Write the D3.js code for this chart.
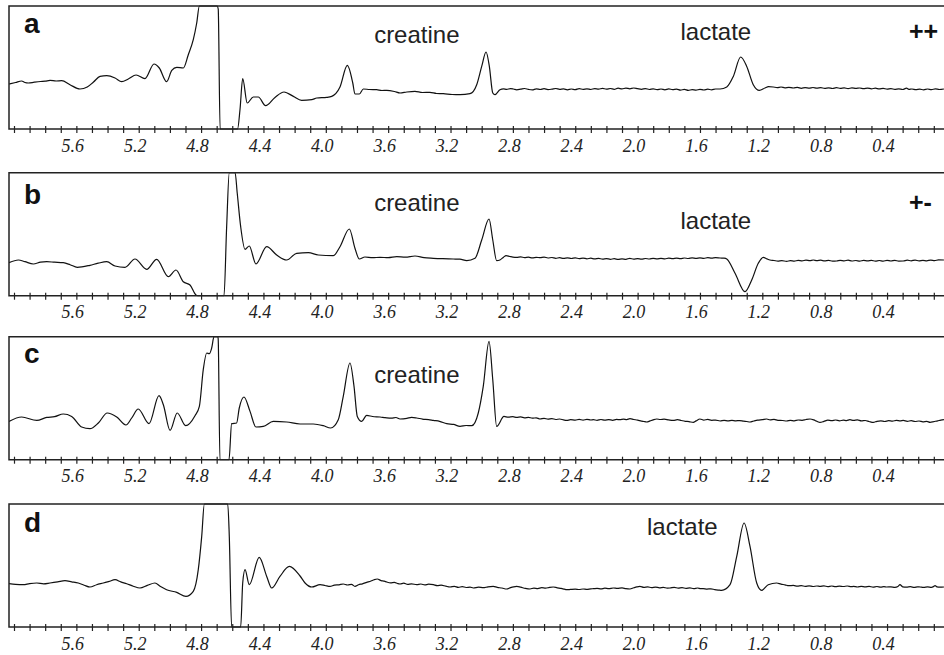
<!DOCTYPE html>
<html>
<head>
<meta charset="utf-8">
<script src="https://cdn.jsdelivr.net/npm/d3@7"></script>
<style>
  body { margin: 0; background: #fff; }
  svg { display: block; }
</style>
</head>
<body>
<svg id="chart" width="944" height="655"></svg>
<script>
//////////////////////////////////////
// Data  ([ppm, signal], signal read as height above the axis)

const specA = [
  [6.032,45],[5.990,46.5],[5.951,48],[5.930,46.5],[5.908,46],[5.870,46.8],[5.830,47.5],[5.800,47.8],[5.769,48.6],[5.730,48],
  [5.694,48.3],[5.641,44.3],[5.577,40],[5.530,42],[5.490,47],[5.448,52.6],[5.405,53.3],[5.352,51],[5.309,47.3],[5.267,50],
  [5.217,54],[5.160,50.3],[5.102,65],[5.068,61],[5.021,47.3],[4.988,58.6],[4.956,61.6],[4.914,61],[4.882,74.3],[4.850,89.3],
  [4.828,106],[4.811,123.5],[4.790,140],[4.720,140],[4.696,130],[4.690,120],[4.678,-10],[4.566,-10],[4.550,20],[4.533,50.3],
  [4.504,26],[4.465,32],[4.433,32],[4.386,23.3],[4.326,31.6],[4.268,37],[4.208,32.6],[4.155,28.6],[4.090,29.3],[4.058,31],
  [3.994,31.6],[3.962,32.6],[3.909,42],[3.862,63.6],[3.827,46],[3.813,35],[3.785,35],[3.759,40],[3.720,39.5],[3.674,39.3],
  [3.640,38.5],[3.609,38.6],[3.560,37.5],[3.524,36],[3.480,37],[3.428,37.6],[3.380,36.5],[3.332,36.6],[3.290,35.5],[3.246,35.3],
  [3.190,34.5],[3.139,34.3],[3.075,35.3],[3.032,44.3],[3.000,62.6],[2.972,77],[2.951,62.6],[2.929,36],[2.915,34.3],[2.883,39.3],
  [2.860,40.2],[2.840,39.6],[2.815,40.4],[2.797,40],[2.775,39.2],[2.750,39.8],[2.725,40.5],[2.700,39.6],[2.675,39.1],[2.650,40.2],
  [2.625,39.5],[2.600,40.3],[2.575,39.4],[2.550,39.8],[2.525,40.5],[2.500,39.7],[2.475,40.1],[2.450,39.2],[2.425,40],[2.400,39.4],
  [2.375,40.4],[2.350,39.6],[2.325,40.2],[2.300,39.5],[2.275,40.4],[2.250,39.8],[2.225,40.6],[2.200,39.9],[2.175,40.5],[2.150,39.7],
  [2.125,40.8],[2.100,40.1],[2.075,40.9],[2.050,40.2],[2.025,41],[2.000,40.3],[1.975,39.7],[1.950,40.4],[1.925,39.5],[1.900,40.2],
  [1.875,39.3],[1.850,40],[1.825,39.2],[1.800,40.1],[1.775,39.4],[1.750,39.9],[1.725,38.9],[1.700,39.6],[1.675,38.6],[1.650,39.4],
  [1.625,38.9],[1.600,39.7],[1.575,39],[1.550,39.8],[1.525,39.2],[1.500,40],[1.471,40],[1.428,42],[1.386,52.6],[1.339,72],
  [1.300,62.6],[1.258,44.3],[1.219,38.6],[1.183,41],[1.160,42.3],[1.130,42],[1.105,41.4],[1.080,42],[1.055,41.2],[1.030,41.7],
  [1.001,41],[0.975,41.6],[0.950,40.7],[0.925,41.4],[0.900,40.8],[0.875,41.5],[0.850,40.9],[0.825,41.4],[0.800,40.6],[0.775,41.2],
  [0.750,40.5],[0.725,41.3],[0.700,40.7],[0.675,41.1],[0.650,40.4],[0.625,41.2],[0.600,40.6],[0.575,41],[0.550,40.3],[0.525,40.9],
  [0.500,40.2],[0.475,40.8],[0.450,40.1],[0.425,40.6],[0.400,39.8],[0.375,40.4],[0.350,39.6],[0.325,40.2],[0.300,39.5],[0.275,40.8],
  [0.260,39.6],[0.240,40],[0.215,39.3],[0.190,39.8],[0.165,39.2],[0.140,40],[0.115,39.4],[0.090,40.1],[0.065,39.5],[0.035,40]
];

const specB = [
  [6.032,33],[5.972,35.7],[5.930,34],[5.876,31.7],[5.830,33.5],[5.790,34],[5.740,33.5],[5.684,33],[5.640,31],[5.594,28.4],
  [5.513,30.4],[5.460,32.5],[5.405,34],[5.352,29.7],[5.288,28.4],[5.224,36.7],[5.149,26.4],[5.085,36.4],[5.010,19],[4.961,25.7],
  [4.914,14],[4.871,10.7],[4.833,0.7],[4.820,-5],[4.653,-5],[4.636,69],[4.619,130],[4.582,130],[4.568,102.4],[4.546,69],
  [4.518,46.4],[4.491,49.7],[4.448,31.7],[4.379,49],[4.315,40.7],[4.251,35.7],[4.187,42.4],[4.112,43],[4.048,40.7],[3.952,40],
  [3.909,49],[3.849,66.7],[3.813,47.4],[3.785,36.7],[3.749,38.7],[3.700,38],[3.652,38.4],[3.600,38],[3.545,39],[3.490,38.5],
  [3.428,39.7],[3.370,38],[3.310,37.4],[3.250,37],[3.182,36.7],[3.140,36.5],[3.096,35],[3.043,37.4],[3.000,55.7],[2.953,76.7],
  [2.929,55.7],[2.904,35],[2.883,35.7],[2.860,38.5],[2.844,40],[2.820,39.2],[2.800,38.6],[2.775,38.4],[2.750,38.9],[2.725,38.1],
  [2.700,38.5],[2.675,37.8],[2.650,38.4],[2.625,38],[2.600,38.6],[2.575,37.7],[2.550,38.2],[2.525,37.4],[2.500,38],[2.475,37.3],
  [2.450,37.9],[2.425,37.2],[2.400,37.8],[2.375,37],[2.350,37.6],[2.325,36.9],[2.300,37.5],[2.275,36.8],[2.250,37.3],[2.225,36.5],
  [2.200,37.1],[2.175,36.4],[2.150,37],[2.125,36.3],[2.100,36.9],[2.075,36.4],[2.050,37.4],[2.025,36.6],[2.000,37],[1.975,36.5],
  [1.950,37.2],[1.925,36.7],[1.900,37.3],[1.875,36.8],[1.850,37.4],[1.825,36.9],[1.800,37.5],[1.775,37],[1.750,37.6],[1.725,37.1],
  [1.700,37.7],[1.675,37.2],[1.650,37.8],[1.625,37.3],[1.600,37.9],[1.575,37.4],[1.550,38],[1.525,37.5],[1.500,38],[1.471,37.7],
  [1.445,37.5],[1.428,36.7],[1.375,22.4],[1.311,4],[1.268,15.7],[1.226,32.4],[1.194,38.4],[1.170,36.8],[1.151,35.7],[1.125,35.2],
  [1.100,34.6],[1.075,35],[1.044,34.4],[1.020,35],[0.995,34.5],[0.970,35.3],[0.945,34.8],[0.920,35.6],[0.895,35],[0.873,35.7],
  [0.850,35.1],[0.825,35.5],[0.800,34.8],[0.775,35.3],[0.750,34.5],[0.723,34.7],[0.700,35.4],[0.675,34.9],[0.650,35.5],[0.625,34.7],
  [0.600,35.2],[0.575,34.6],[0.550,35.4],[0.525,34.8],[0.500,35.3],[0.475,34.6],[0.450,35.2],[0.425,34.5],[0.400,35.3],[0.375,34.7],
  [0.350,35.4],[0.325,34.6],[0.296,34.7],[0.270,35.5],[0.245,34.9],[0.220,35.6],[0.195,34.8],[0.170,35.4],[0.145,34.9],[0.120,35.6],
  [0.095,35],[0.070,35.8],[0.035,35.7]
];

const specC = [
  [6.032,38.3],[5.951,42.7],[5.854,39.3],[5.790,42.3],[5.740,43],[5.684,45.7],[5.630,43.3],[5.566,32.7],[5.513,31],[5.459,36.7],
  [5.402,46.7],[5.341,42.7],[5.282,34.7],[5.245,41.7],[5.203,50.7],[5.134,36],[5.070,64],[5.042,55],[4.999,29.3],[4.953,46.7],
  [4.899,34],[4.839,44],[4.811,53.3],[4.786,90],[4.764,106.7],[4.747,106],[4.732,111.7],[4.717,124],[4.710,135],[4.692,135],
  [4.690,120],[4.679,-10],[4.621,-10],[4.604,36],[4.572,36.7],[4.555,51.7],[4.525,62.7],[4.486,48.3],[4.448,32.7],[4.401,33.3],
  [4.337,38.3],[4.251,37.7],[4.165,35.7],[4.080,35.7],[4.016,34],[3.969,31.7],[3.920,40],[3.888,63.3],[3.845,96.7],[3.819,73.3],
  [3.798,43.3],[3.770,38.3],[3.738,44.3],[3.700,43.2],[3.652,42.7],[3.620,42.1],[3.580,41.5],[3.550,42.2],[3.524,40.7],[3.480,41.3],
  [3.450,42.3],[3.417,41.7],[3.380,40.6],[3.340,40.1],[3.310,39.3],[3.270,38.4],[3.224,36],[3.180,35.3],[3.139,33.3],[3.100,34.2],
  [3.064,34],[3.022,46.7],[2.990,73.3],[2.953,118.3],[2.929,80],[2.904,33.3],[2.857,43.3],[2.830,42.5],[2.800,43],[2.775,42.3],
  [2.750,42.8],[2.725,41.9],[2.700,42.4],[2.675,41.5],[2.650,41.9],[2.626,40.7],[2.600,41.4],[2.575,40.6],[2.550,41.1],[2.525,40.2],
  [2.500,40.7],[2.475,39.8],[2.455,39.3],[2.430,40],[2.400,39.5],[2.375,40.3],[2.350,39.6],[2.325,40.4],[2.300,39.7],[2.284,40],
  [2.260,39.4],[2.235,40.2],[2.210,39.5],[2.185,40.1],[2.160,39.4],[2.135,40.3],[2.113,40],[2.090,40.6],[2.070,40.1],[2.049,41],
  [2.025,40.2],[2.000,39.6],[1.975,38.6],[1.960,38.2],[1.942,37.7],[1.920,38.8],[1.900,39.9],[1.877,40.7],[1.855,40.2],[1.830,40.6],
  [1.800,39.8],[1.771,39.3],[1.745,40],[1.720,39.2],[1.695,38.4],[1.670,38.1],[1.643,37.3],[1.625,38.8],[1.600,40.7],[1.575,39.6],
  [1.550,40.3],[1.525,39.4],[1.500,39.6],[1.471,38.7],[1.445,39.3],[1.420,38.8],[1.395,39.4],[1.370,38.9],[1.345,39.1],[1.320,38.5],
  [1.300,38.2],[1.279,37.7],[1.255,38.7],[1.230,39.6],[1.200,40.1],[1.172,40.7],[1.150,39.8],[1.125,40.3],[1.100,39.4],[1.070,39.2],
  [1.044,38.7],[1.020,39.4],[0.995,38.9],[0.970,39.7],[0.945,39.4],[0.920,40.2],[0.894,40.7],[0.870,39.8],[0.850,38.4],[0.830,37.3],
  [0.805,38.3],[0.780,39.6],[0.755,39.1],[0.730,39.7],[0.705,38.9],[0.680,39.5],[0.660,39.1],[0.638,40],[0.615,39.3],[0.590,39.8],
  [0.565,38.8],[0.540,39.2],[0.515,38.2],[0.488,37.3],[0.465,38.4],[0.440,38.9],[0.415,38.2],[0.390,39],[0.365,38.5],[0.340,39.3],
  [0.315,38.8],[0.296,39.3],[0.270,38.4],[0.245,39],[0.220,38.2],[0.195,38.7],[0.170,37.9],[0.145,38.3],[0.124,37.3],[0.100,38.1],
  [0.075,38.9],[0.055,39.6],[0.035,40]
];

const specD = [
  [6.032,43.3],[5.990,42.6],[5.940,42.3],[5.900,43.4],[5.854,44],[5.810,43.2],[5.769,44],[5.720,45.1],[5.673,46.3],[5.630,45.2],
  [5.588,44],[5.550,41.8],[5.513,40],[5.470,42.3],[5.427,44],[5.390,45.6],[5.352,47.3],[5.315,45.1],[5.277,43.3],[5.235,40.8],
  [5.192,39],[5.145,41.6],[5.096,44],[5.060,40.4],[5.021,37.3],[4.956,34.6],[4.897,30.6],[4.850,35.6],[4.818,57.3],[4.796,90.6],
  [4.779,130],[4.629,130],[4.619,90.6],[4.604,-10],[4.546,-10],[4.533,44],[4.518,57.3],[4.491,42.3],[4.427,69.6],[4.379,50.6],
  [4.347,39],[4.294,50.6],[4.234,60.6],[4.165,51],[4.133,44],[4.090,40],[4.037,42.3],[4.005,41.5],[3.973,40.6],[3.945,41.8],
  [3.915,42.2],[3.888,43],[3.860,42],[3.835,42.6],[3.813,40.6],[3.790,42.3],[3.765,43.2],[3.738,44.6],[3.710,46],[3.690,47.3],
  [3.670,48],[3.645,46.4],[3.625,45.8],[3.609,45],[3.585,44.2],[3.560,44.6],[3.540,43.5],[3.524,43],[3.500,43.8],[3.475,42.6],
  [3.450,43.2],[3.417,42.3],[3.390,43],[3.365,42.1],[3.340,42.8],[3.310,42.3],[3.285,41.4],[3.260,41.9],[3.230,40.8],[3.203,40],
  [3.175,40.6],[3.150,39.6],[3.125,40.4],[3.100,39.5],[3.075,39.9],[3.054,39],[3.020,39.8],[2.990,39.3],[2.960,40.2],[2.926,40.6],
  [2.900,39.6],[2.870,39],[2.840,38],[2.815,39.4],[2.795,40.2],[2.775,40.6],[2.750,39.8],[2.720,38.6],[2.690,38],[2.665,38.9],
  [2.640,38.4],[2.615,39.3],[2.590,38.8],[2.565,39.6],[2.541,40],[2.515,39.2],[2.490,38.6],[2.470,37.8],[2.455,37.3],[2.430,37.6],
  [2.400,37.9],[2.375,37.5],[2.350,38],[2.325,37.6],[2.300,38.2],[2.284,38.3],[2.260,38.6],[2.235,38.1],[2.210,38.8],[2.185,38.4],
  [2.156,39],[2.130,38.6],[2.100,39.1],[2.075,38.3],[2.049,38],[2.025,39.2],[2.005,40.1],[1.985,40.6],[1.960,39.6],[1.935,40.1],
  [1.910,39.3],[1.885,39.9],[1.860,39.2],[1.835,39.7],[1.810,38.9],[1.792,39],[1.765,39.6],[1.740,38.8],[1.715,39.4],[1.690,38.6],
  [1.665,39.2],[1.640,38.4],[1.615,39],[1.595,38.3],[1.579,38.3],[1.555,37.9],[1.530,38.2],[1.505,37.4],[1.480,36.9],[1.461,36.6],
  [1.407,42.3],[1.364,70.6],[1.317,104],[1.279,80.6],[1.236,44],[1.204,36.6],[1.162,42.3],[1.108,44],[1.080,42.8],[1.055,42.2],
  [1.030,41.3],[1.001,41.6],[0.975,40.8],[0.950,41.4],[0.925,40.6],[0.900,41.2],[0.875,40.5],[0.850,41],[0.830,40.6],[0.805,41.1],
  [0.780,40.4],[0.755,41],[0.730,40.3],[0.705,40.9],[0.680,40.5],[0.655,41],[0.630,40.3],[0.616,40.6],[0.590,40],[0.565,40.7],
  [0.540,40.1],[0.515,40.6],[0.490,39.9],[0.465,40.5],[0.440,39.8],[0.420,40.4],[0.402,40],[0.375,40.2],[0.350,39.7],[0.330,40.6],
  [0.317,42.3],[0.300,40.2],[0.275,39.8],[0.250,40.3],[0.225,39.6],[0.205,40.2],[0.189,40],[0.165,39.6],[0.140,40.2],[0.115,39.7],
  [0.100,40.6],[0.092,41.3],[0.080,40.2],[0.060,39.8],[0.035,40]
];

const spectra = [specA, specB, specC, specD]
const panelLetters = ['a', 'b', 'c', 'd']
const phaseSigns = ['++', '+-', '', '']
const tickLabels = [5.6, 5.2, 4.8, 4.4, 4.0, 3.6, 3.2, 2.8, 2.4, 2.0, 1.6, 1.2, 0.8, 0.4]
// metabolite labels per panel: [name, ppm at the left edge of the word]
const peakNames = [
  [['creatine', 3.69], ['lactate', 1.725]],
  [['creatine', 3.69], ['lactate', 1.725]],
  [['creatine', 3.69]],
  [['lactate', 1.94]]
]

//////////////////////////////////////
// Layout

const W = 944
const boxLeft = 9
const panelH = 123
const panelTop = [6, 172.7, 336.7, 504]
const letterY = [33.3, 204.3, 362.7, 531.7]
const nameY = [[42.7, 40], [210.7, 229.3], [382.7], [535]]
const signY = [40, 211]

const x = d3.scaleLinear().domain([6.0, 0.0]).range([14, 949.4])
const minorTicks = d3.range(60).map(function(k) { return +(6.0 - k * 0.1).toFixed(1) })

const svg = d3.select('#chart')

spectra.forEach(function(data, i) {
	const top = panelTop[i]
	const bottom = top + panelH
	const y = d3.scaleLinear().domain([0, 123]).range([bottom, top]).clamp(true)
	const g = svg.append('g')

	g.append('clipPath').attr('id', 'clip' + i)
		.append('rect')
		.attr('x', boxLeft).attr('y', top - 1)
		.attr('width', W).attr('height', panelH + 2)

	const line = d3.line()
		.x(function(d) { return x(d[0]) })
		.y(function(d) { return y(d[1]) })
		.curve(d3.curveMonotoneX)

	g.append('path')
		.datum(data)
		.attr('clip-path', 'url(#clip' + i + ')')
		.attr('fill', 'none')
		.attr('stroke', '#111')
		.attr('stroke-width', 1.2)
		.attr('stroke-linejoin', 'round')
		.attr('d', line)

	// frame: top, left and bottom (axis line); right edge runs off the page
	g.append('path')
		.attr('d', 'M' + (W + 5) + ',' + top + 'H' + boxLeft + 'V' + bottom + 'H' + (W + 5))
		.attr('fill', 'none')
		.attr('stroke', '#222')
		.attr('stroke-width', 1.5)

	// ppm axis
	const axis = g.append('g')
		.attr('transform', 'translate(0,' + bottom + ')')
		.call(d3.axisBottom(x)
			.tickValues(minorTicks)
			.tickSize(4)
			.tickFormat(function(d) { return tickLabels.indexOf(d) >= 0 ? d.toFixed(1) : '' }))
	axis.select('.domain').remove()
	axis.selectAll('.tick line')
		.attr('y1', -3).attr('y2', 4)
		.attr('stroke', '#222').attr('stroke-width', 1.2)
	axis.selectAll('.tick text')
		.attr('y', 22.5).attr('dy', 0).attr('dx', -4)
		.attr('fill', '#222')
		.style('font-family', '"Liberation Serif", "Times New Roman", serif')
		.style('font-style', 'italic')
		.style('font-size', '18px')

	// panel letter
	g.append('text')
		.attr('x', 24).attr('y', letterY[i])
		.text(panelLetters[i])
		.style('font-family', '"Liberation Sans", Arial, sans-serif')
		.style('font-weight', 'bold')
		.style('font-size', '28px')
		.attr('fill', '#111')

	// metabolite names
	peakNames[i].forEach(function(p, j) {
		g.append('text')
			.attr('x', x(p[1])).attr('y', nameY[i][j])
			.text(p[0])
			.style('font-family', '"Liberation Sans", Arial, sans-serif')
			.style('font-size', '24px')
			.attr('fill', '#222')
	})

	if (phaseSigns[i]) {
		g.append('text')
			.attr('x', 909).attr('y', signY[i])
			.text(phaseSigns[i])
			.style('font-family', '"Liberation Sans", Arial, sans-serif')
			.style('font-weight', 'bold')
			.style('font-size', '25px')
			.attr('fill', '#111')
	}
})
</script>
</body>
</html>
